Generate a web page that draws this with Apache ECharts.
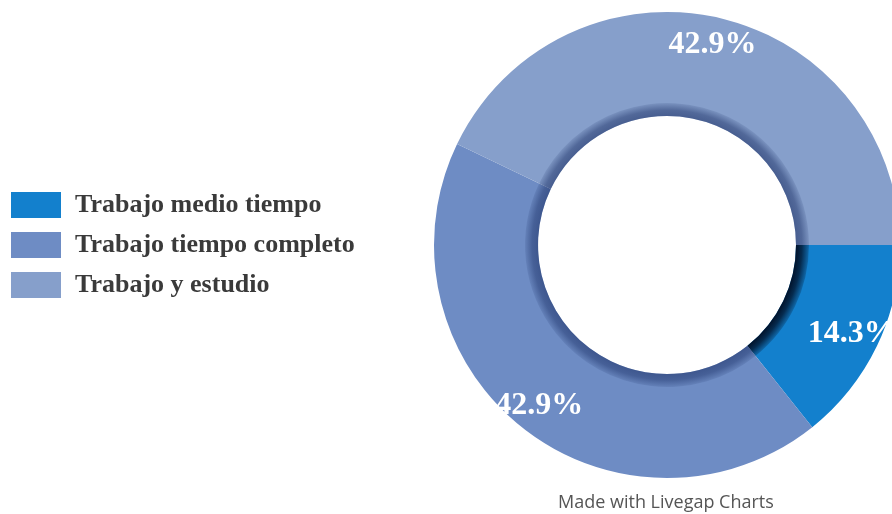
<!DOCTYPE html>
<html>
<head>
<meta charset="utf-8">
<script src="https://cdn.jsdelivr.net/npm/echarts@6/dist/echarts.min.js"></script>
<style>
  html, body { margin: 0; padding: 0; background: #fff; }
  #chart { width: 892px; height: 514px; }
</style>
</head>
<body>
<div id="chart"></div>
<script>
// Job situation shares (percent)
const categories = ['Trabajo medio tiempo', 'Trabajo tiempo completo', 'Trabajo y estudio'];
const shares = [14.3, 42.9, 42.9];
const colors = ['#1380cd', '#6e8cc4', '#869fcb'];
// inner shadow ring per slice: tint colour and opacity at [inner edge, middle, outer edge]
const shadeTint = ['0,10,30', '15,35,90', '15,35,90'];
const shadeAlpha = [[0.92, 0.72, 0.2], [0.5, 0.42, 0.1], [0.52, 0.44, 0.1]];

const CX = 667, CY = 245;
const R_OUT = 233, R_IN = 129, R_SHADE = 142;

const chart = echarts.init(document.getElementById('chart'), null, { renderer: 'canvas' });

const baseData = categories.map((name, i) => ({
  name, value: shares[i], itemStyle: { color: colors[i] }
}));

const shadeData = categories.map((name, i) => {
  const c = a => 'rgba(' + shadeTint[i] + ',' + a + ')';
  return {
    name, value: shares[i],
    itemStyle: {
      color: {
        type: 'radial', x: CX, y: CY, r: R_SHADE, global: true,
        colorStops: [
          { offset: R_IN / R_SHADE, color: c(shadeAlpha[i][0]) },
          { offset: 0.95, color: c(shadeAlpha[i][1]) },
          { offset: 1, color: c(shadeAlpha[i][2]) }
        ]
      }
    }
  };
});

const labelData = categories.map((name, i) => ({ name, value: shares[i] }));

chart.setOption({
  animation: false,
  backgroundColor: '#ffffff',
  legend: {
    orient: 'vertical',
    left: 11,
    top: 192,
    padding: 0,
    itemWidth: 50,
    itemHeight: 26,
    itemGap: 14,
    icon: 'rect',
    selectedMode: false,
    data: categories,
    textStyle: {
      fontFamily: '"Liberation Serif", "Times New Roman", serif',
      fontWeight: 'bold',
      fontSize: 26,
      color: '#3a3a3a',
      padding: [0, 0, 0, 9]
    }
  },
  graphic: [{
    type: 'text',
    left: 558,
    top: 494,
    style: {
      text: 'Made with Livegap Charts',
      fill: '#555555',
      font: '18px "Open Sans", sans-serif'
    }
  }],
  series: [
    {
      type: 'pie',
      center: [CX, CY],
      radius: [R_IN, R_OUT],
      startAngle: 0,
      clockwise: true,
      silent: true,
      label: { show: false },
      labelLine: { show: false },
      itemStyle: { borderWidth: 0 },
      data: baseData
    },
    {
      type: 'pie',
      center: [CX, CY],
      radius: [R_IN, R_SHADE],
      startAngle: 0,
      clockwise: true,
      silent: true,
      label: { show: false },
      labelLine: { show: false },
      itemStyle: { borderWidth: 0 },
      data: shadeData
    },
    {
      type: 'pie',
      center: [CX, CY],
      radius: [171, R_OUT],
      startAngle: 0,
      clockwise: true,
      silent: true,
      itemStyle: { color: 'rgba(0,0,0,0)', borderWidth: 0 },
      label: {
        show: true,
        position: 'inside',
        formatter: p => p.value.toFixed(1) + '%',
        color: '#ffffff',
        fontFamily: '"Liberation Serif", "Times New Roman", serif',
        fontWeight: 'bold',
        fontSize: 32
      },
      labelLine: { show: false },
      data: labelData
    }
  ]
});
</script>
</body>
</html>
